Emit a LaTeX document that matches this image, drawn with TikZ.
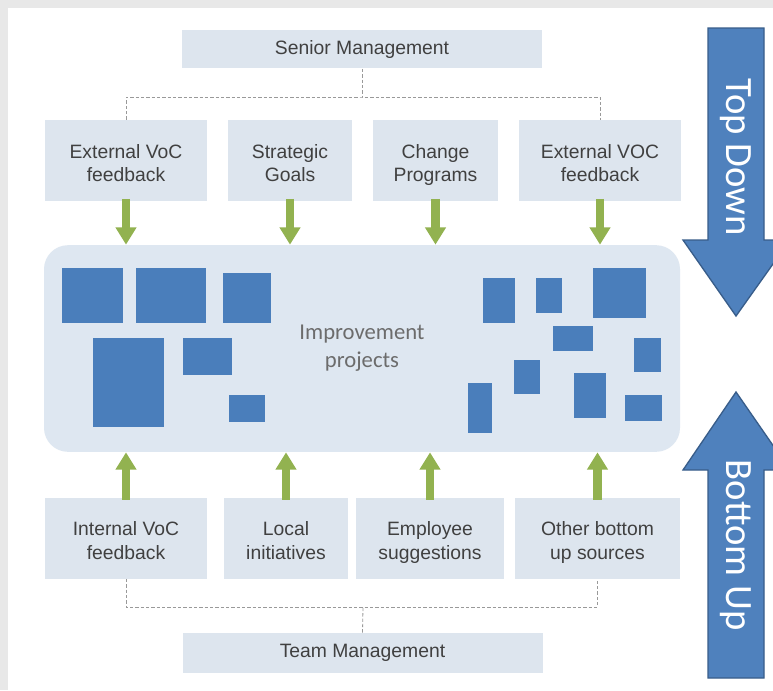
\documentclass[tikz,border=0pt]{standalone}
\usepackage{fontspec}
\setmainfont{Liberation Sans}
\newfontfamily\calib{Carlito}
\usetikzlibrary{arrows.meta}

\definecolor{boxfill}{RGB}{221,229,238}
\definecolor{projfill}{RGB}{222,231,241}
\definecolor{blockblue}{RGB}{74,126,187}
\definecolor{arrowgreen}{RGB}{146,178,80}
\definecolor{bigblue}{RGB}{79,129,189}
\definecolor{bigedge}{RGB}{56,93,138}
\definecolor{txtgray}{RGB}{64,64,64}

\newcommand{\srcpad}{\rule{0pt}{19.5pt}}

\tikzset{every picture/.style={line width=0.75pt}}
\tikzset{
  srcbox/.style={fill=boxfill, text=txtgray, align=center, inner sep=0pt,
    minimum height=60.75pt, font=\fontsize{14.5}{17.5}\selectfont,
    execute at end node=\strut},
  mgmtbox/.style={fill=boxfill, text=txtgray, inner sep=0pt,
    minimum width=270pt, minimum height=29pt, font=\fontsize{14.5}{17.5}\selectfont},
  dashline/.style={draw=gray!80, line width=0.6pt, dash pattern={on 2.5pt off 1.5pt}},
  greenarrow/.style={draw=arrowgreen, line width=6.5pt, -{Triangle[width=15pt,length=13pt]}},
  block/.style={fill=blockblue},
  bigarrow/.style={fill=bigblue, draw=bigedge, line width=1pt},
  bigtext/.style={text=white, rotate=-90, font=\calib\fontsize{29}{32}\selectfont}
}

\begin{document}
\begin{tikzpicture}[x=0.75pt,y=0.75pt,yscale=-1,xscale=1]
\useasboundingbox (0,0) rectangle (773,690);

%Background
\fill[gray!18] (0,0) rectangle (773,690);
\fill[white] (8,8) rectangle (773,690);

%Rounded Rect: improvement projects
\node (proj) at (362,348.5) [fill=projfill, rounded corners=18pt, minimum width=477pt, minimum height=155pt, text=gray!85!black, align=center, font=\calib\fontsize{17}{21}\selectfont] {Improvement\\projects};

%Blue blocks, left group
\foreach \xa/\ya/\xb/\yb in {62/268/123/323, 136/268/206/323, 223/273/271/323, 93/338/164/427, 183/338/232/375, 229/395/265/422}
  \fill[block] (\xa,\ya) rectangle (\xb,\yb);
%Blue blocks, right group
\foreach \xa/\ya/\xb/\yb in {483/278/515/323, 536/278/562/313, 593/268/646/318, 553/326/593/351, 634/338/661/372, 514/360/540/394, 468/383/492/433, 574/373/606/418, 625/395/662/421}
  \fill[block] (\xa,\ya) rectangle (\xb,\yb);

% Top management and sources
\node (senior) at (362,49) [mgmtbox] {Senior Management};
\node (ext1) at (126,160.5) [srcbox, minimum width=121.5pt] {\srcpad External VoC\\feedback};
\node (goals) at (290,160.5) [srcbox, minimum width=93pt] {\srcpad Strategic\\Goals};
\node (change) at (435.5,160.5) [srcbox, minimum width=93.75pt] {\srcpad Change\\Programs};
\node (ext2) at (600,160.5) [srcbox, minimum width=121.5pt] {\srcpad External VOC\\feedback};

% Bottom management and sources
\node (intl) at (126,538) [srcbox, minimum width=121.5pt] {\srcpad Internal VoC\\feedback};
\node (local) at (286,538) [srcbox, minimum width=93pt] {\srcpad Local\\initiatives};
\node (empl) at (430,538) [srcbox, minimum width=111pt] {\srcpad Employee\\suggestions};
\node (other) at (597.5,538) [srcbox, minimum width=123.75pt] {\srcpad Other bottom\\up sources};
\node (team) at (362.5,653) [mgmtbox, minimum height=30pt] {Team Management};

%Dashed connectors
\coordinate (topjoin) at (362,97);
\coordinate (botjoin) at (363,607);
\draw[dashline] (senior.south) -- (topjoin);
\draw[dashline] (ext1.north) |- (topjoin) -| (ext2.north);
\draw[dashline] (team.north) -- (botjoin);
\draw[dashline] (intl.south) |- (botjoin) -| (other.south);

%Green arrows down
\foreach \n in {ext1,goals,change,ext2}
  \draw[greenarrow] ([yshift=-2pt]\n.south) -- (\n.south |- proj.north);
%Green arrows up
\foreach \n in {intl,local,empl,other}
  \draw[greenarrow] ([yshift=2pt]\n.north) -- (\n.north |- proj.south);

%Big arrows
\draw[bigarrow] (708,28) -- (764,28) -- (764,240) -- (790,240) -- (736,316) -- (683,240) -- (708,240) -- cycle;
\draw[bigarrow] (708,678) -- (764,678) -- (764,470) -- (790,470) -- (736,392) -- (683,470) -- (708,470) -- cycle;
\node (topdown) at (736,157) [bigtext] {Top Down};
\node (bottomup) at (736,545) [bigtext] {Bottom Up};

\end{tikzpicture}
\end{document}
